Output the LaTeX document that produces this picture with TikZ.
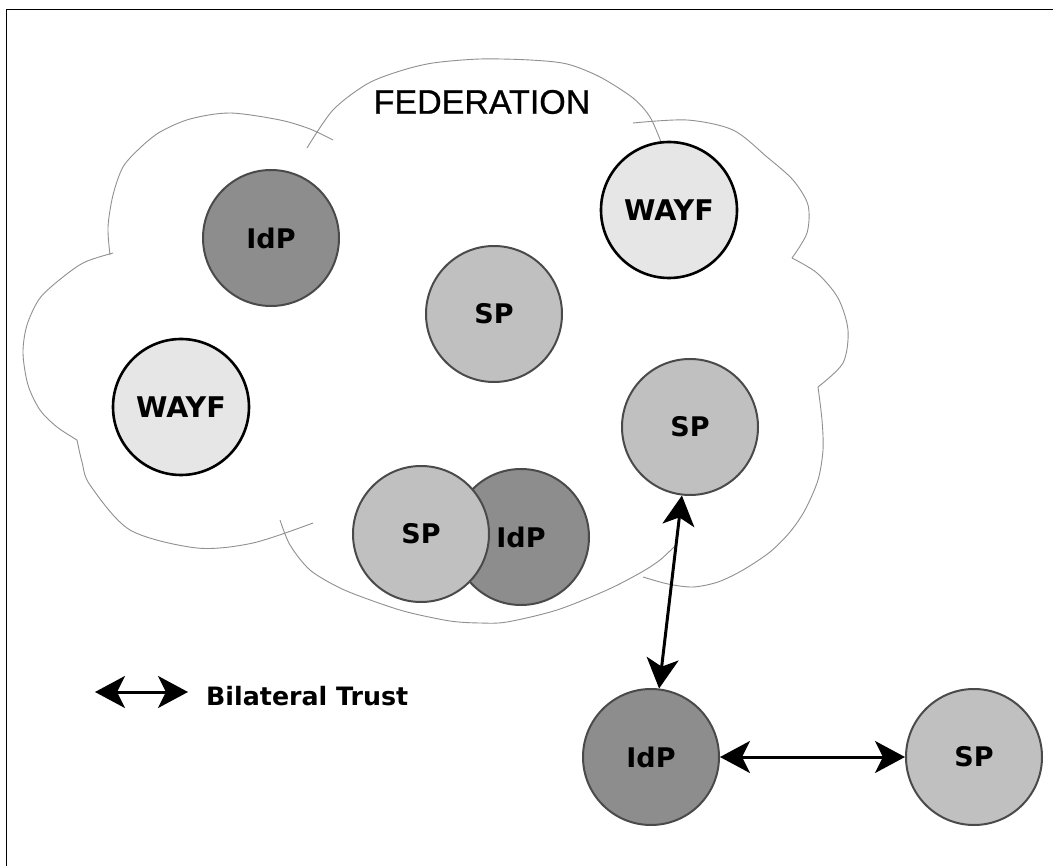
\documentclass[tikz,border=0pt]{standalone}
\usepackage{fontspec}
\setmainfont{DejaVu Sans}
\newfontfamily\fedfont[FakeBold=0.8]{Liberation Sans}
\usetikzlibrary{arrows.meta}
\definecolor{idpfill}{HTML}{8D8D8D}
\definecolor{spfill}{HTML}{C0C0C0}
\definecolor{wayffill}{HTML}{E6E6E6}
\definecolor{rimgray}{HTML}{4A4A4A}
\definecolor{cloudgray}{HTML}{909090}
\tikzset{
  ent/.style={circle, minimum size=136pt, inner sep=0pt, line width=2pt,
    font=\fontsize{27}{32}\selectfont\bfseries, text=black},
  idpnode/.style={ent, draw=rimgray, fill=idpfill},
  spnode/.style={ent, draw=rimgray, fill=spfill},
  wayfnode/.style={ent, draw=black, line width=2.6pt, fill=wayffill,
    font=\fontsize{28.5}{33}\selectfont\bfseries},
  bump/.style={draw=cloudgray, line width=0.9pt},
  trust/.style={line width=3pt, {Stealth[length=30pt,width=32pt,inset=8pt]}-{Stealth[length=30pt,width=32pt,inset=8pt]}},
  frameline/.style={line width=1.6pt, black}
}
\begin{document}
\begin{tikzpicture}[x=1pt,y=-1pt]
\useasboundingbox (0,0) rectangle (1053,866);
\fill[white] (0,0) rectangle (1053,866);
% frame
\draw[frameline] (6.5,866) -- (6.5,9.5) -- (1053,9.5);
% cloud bumps
\draw[bump] plot[smooth] coordinates {(307,148) (333,110) (367,84) (400,71) (433,63) (480,59) (530,60) (567,64) (600,77) (633,98) (650,117) (661,142)};
\draw[bump] plot[smooth] coordinates {(633,123) (687,120) (733,130) (767,157) (793,180) (808,205) (807,233) (792,258)};
\draw[bump] plot[smooth] coordinates {(792,258) (817,273) (838,298) (848,330) (843,363) (818,387)};
\draw[bump] plot[smooth] coordinates {(818,387) (822,420) (823,450) (818,480) (805,510) (790,532) (770,552) (743,570) (718,582) (693,587) (668,584) (643,577)};
\draw[bump] plot[smooth] coordinates {(280,520) (290,545) (310,570) (340,588) (373,601) (407,612) (450,621) (480,623) (507,622) (557,610) (607,590) (640,573) (660,560) (677,544)};
\draw[bump] plot[smooth] coordinates {(77,440) (82,462) (90,485) (130,530) (197,548) (253,543) (313,523)};
\draw[bump] plot[smooth] coordinates {(113,253) (85,262) (63,277) (40,298) (27,325) (23,353) (28,385) (40,410) (57,427) (77,440)};
\draw[bump] plot[smooth] coordinates {(110,255) (108,227) (113,195) (123,167) (140,148) (160,132) (190,119) (230,113) (280,120) (310,129) (333,140)};
\node[font=\fedfont\fontsize{34}{40}\selectfont, inner sep=0pt] (fed) at (482,102) {FEDERATION};
% entities
\node[idpnode] (idp1) at (271,238) {IdP};
\node[spnode] (sp1) at (494,314) {SP};
\node[wayfnode] (wayf1) at (669,210) {WAYF};
\node[wayfnode] (wayf2) at (181,407) {WAYF};
\node[spnode] (sp2) at (690,427) {SP};
\node[idpnode] (idp2) at (521,537) {IdP};
\node[spnode] (sp3) at (421,534) {SP};
\node[idpnode] (idp3) at (651,757) {IdP};
\node[spnode] (sp4) at (974,757) {SP};
% trust arrows
\draw[trust] (sp2) -- (idp3);
\draw[trust] (idp3) -- (sp4);
% legend
\coordinate (la) at (95,692);
\coordinate (lb) at (188,692);
\draw[trust] (la) -- (lb);
\node[anchor=west, inner sep=0pt, font=\fontsize{25.3}{30}\selectfont\bfseries] (legend) at (206,696) {Bilateral Trust};
\end{tikzpicture}
\end{document}
